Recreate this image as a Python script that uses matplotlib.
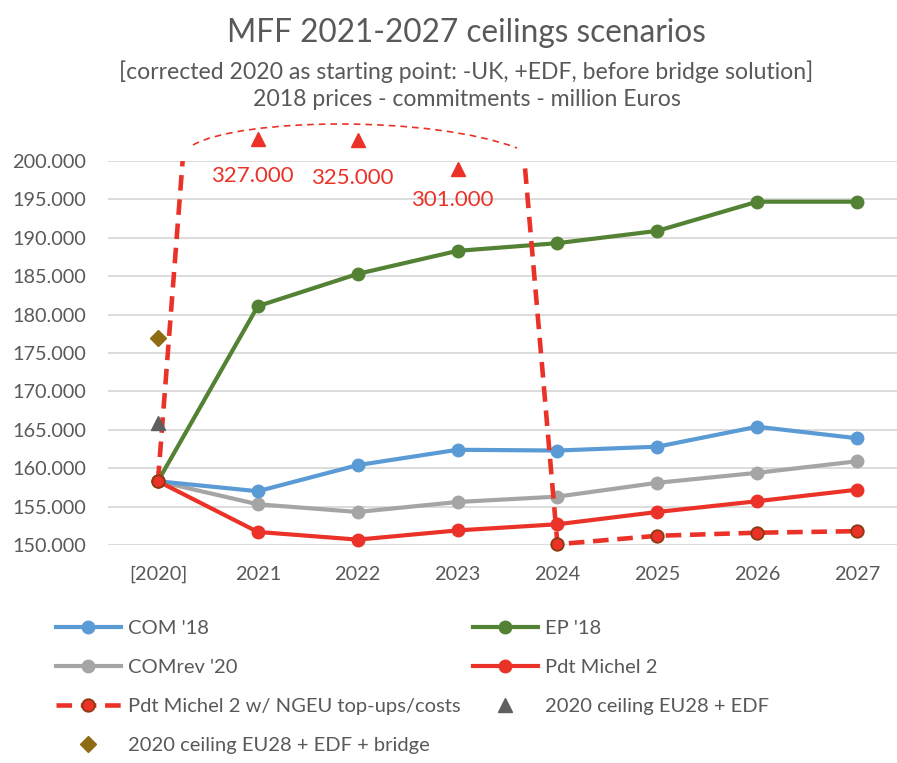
import matplotlib
matplotlib.use("Agg")
import matplotlib.pyplot as plt
from matplotlib.path import Path
from matplotlib.patches import PathPatch, Rectangle
import matplotlib.transforms as mtransforms

plt.rcParams['font.family'] = ['Lato', 'DejaVu Sans']

categories = ["[2020]", "2021", "2022", "2023", "2024", "2025", "2026", "2027"]
com18 = [158300, 157000, 160400, 162400, 162300, 162800, 165400, 163900]
ep18 = [158300, 181100, 185300, 188300, 189300, 190900, 194700, 194700]
comrev20 = [158300, 155300, 154300, 155600, 156300, 158100, 159400, 160900]
michel2 = [158300, 151700, 150700, 151900, 152700, 154300, 155700, 157200]
michel2_ngeu = [158300, 327000, 325000, 301000, 150100, 151200, 151600, 151800]
ceiling_edf = 165900
ceiling_bridge = 177000
yticks = [150000, 155000, 160000, 165000, 170000, 175000, 180000, 185000, 190000, 195000, 200000]

BLUE = "#5B9BD5"
GREEN = "#548235"
GRAY = "#A5A5A5"
RED = "#EA3228"
BROWN = "#8F6B14"
TXT = "#595959"

def fmt(v):
    return f"{v:,.0f}".replace(",", ".")

fig = plt.figure(figsize=(8.97, 7.63), dpi=100)
ax = fig.add_axes([108/897, (763-545)/763, 799/897, 384/763])
x = list(range(len(categories)))
ax.set_xlim(-0.5, len(categories) - 0.5)
ax.set_ylim(yticks[0], yticks[-1])

clip_rect = Rectangle((0, -0.3), 1, 1.3, transform=ax.transAxes, visible=False)
ax.add_patch(clip_rect)

lw = 3.0
ms = 9
series = [(com18, BLUE, "COM '18"), (ep18, GREEN, "EP '18"),
          (comrev20, GRAY, "COMrev '20"), (michel2, RED, "Pdt Michel 2")]
handles = {}
order_z = {"COM '18": 3, "EP '18": 4, "COMrev '20": 2, "Pdt Michel 2": 5}
for vals, col, lab in [series[2], series[0], series[1], series[3]]:
    ln, = ax.plot(x, vals, color=col, lw=lw, marker='o', ms=ms, mfc=col, mec=col,
                  label=lab, zorder=order_z[lab], solid_joinstyle='round')
    ln.set_clip_path(clip_rect)
    handles[lab] = ln

ng, = ax.plot(x, michel2_ngeu, color=RED, lw=3.3, ls=(0, (3.4, 1.9)), marker='o', ms=ms,
              mfc=RED, mec="#8B3A10", mew=1.3, label="Pdt Michel 2 w/ NGEU top-ups/costs",
              zorder=6)
ng.set_clip_path(clip_rect)

tri, = ax.plot([0], [ceiling_edf], ls='none', marker='^', ms=10, color="#5F5F5F",
               label="2020 ceiling EU28 + EDF", zorder=7, clip_on=False)
dia, = ax.plot([0], [ceiling_bridge], ls='none', marker='D', ms=8, color=BROWN,
               label="2020 ceiling EU28 + EDF + bridge", zorder=7, clip_on=False)

# off-chart indicators
top = yticks[-1]
tri_off = {1: 16, 2: 15, 3: -6}
lab_off = {1: -11, 2: -12, 3: -28}
for i, v in enumerate(michel2_ngeu):
    if v > top:
        ax.plot([i], [top], ls='none', marker='^', ms=10, color=RED, clip_on=False,
                transform=ax.transData + mtransforms.ScaledTranslation(0, tri_off[i]/72, fig.dpi_scale_trans),
                zorder=8)
        ax.annotate(fmt(v), xy=(i, top), xytext=(-4, lab_off[i]), textcoords='offset points',
                    ha='center', va='center', color=RED, fontsize=16, annotation_clip=False)

# dashed arc above the chart
verts = [(193/897, (763-145)/763), (240/897, (763-118)/763), (430/897, (763-115)/763), (517/897, (763-148)/763)]
arc = PathPatch(Path(verts, [Path.MOVETO, Path.CURVE4, Path.CURVE4, Path.CURVE4]),
                transform=fig.transFigure, fill=False, edgecolor=RED, lw=1.2,
                linestyle=(0, (4, 3)))
fig.add_artist(arc)

ax.set_xticks(x)
ax.set_xticklabels(categories)
ax.set_yticks(yticks)
ax.set_yticklabels([fmt(v) for v in yticks])
ax.tick_params(axis='both', length=0, labelsize=14.3, labelcolor=TXT)
ax.tick_params(axis='y', pad=16)
ax.tick_params(axis='x', pad=15)
ax.yaxis.grid(True, color="#D9D9D9", lw=1.3)
ax.set_axisbelow(True)
for s in ax.spines.values():
    s.set_visible(False)

fig.text(0.52, 1 - 33/763, "MFF 2021-2027 ceilings scenarios", ha='center', va='center',
         fontsize=22.7, color=TXT)
fig.text(0.52, 1 - 72/763, "[corrected 2020 as starting point: -UK, +EDF, before bridge solution]",
         ha='center', va='center', fontsize=16.6, color=TXT)
fig.text(0.52, 1 - 99/763, "2018 prices - commitments - million Euros",
         ha='center', va='center', fontsize=16.6, color=TXT)

leg_handles = [handles["COM '18"], handles["COMrev '20"], ng, dia,
               handles["EP '18"], handles["Pdt Michel 2"], tri]
leg = fig.legend(handles=leg_handles, labels=[h.get_label() for h in leg_handles],
                 ncol=2, loc='upper left', bbox_to_anchor=(48/897, 1 - 612/763),
                 frameon=False, fontsize=14.5, handlelength=3.2, handletextpad=0.35,
                 columnspacing=0.65, labelspacing=1.08, labelcolor=TXT, borderaxespad=0)

fig.savefig("out.png", dpi=100)
